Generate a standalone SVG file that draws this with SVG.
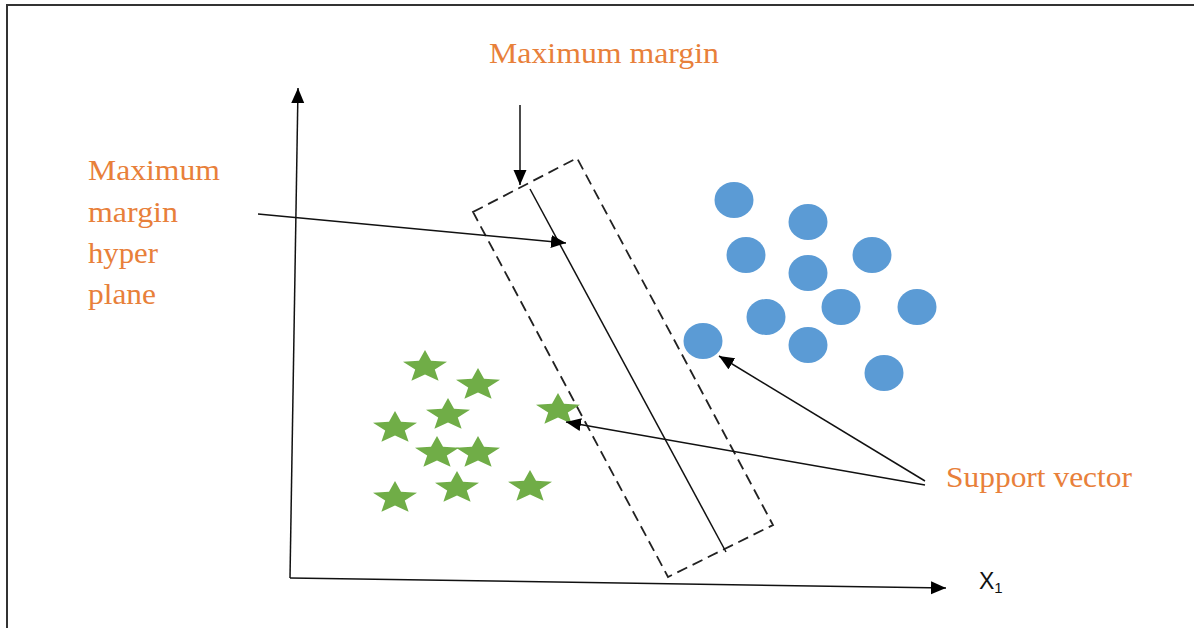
<svg xmlns="http://www.w3.org/2000/svg" width="1194" height="628" viewBox="0 0 1194 628">
<style>
.lbl{font-family:"Liberation Serif","Times New Roman",serif;fill:#E8803A;font-size:30px}
.ln{stroke:#111;stroke-width:1.5;fill:none}
.dot{fill:#5B9BD5}
.star{fill:#70AD47}
</style>
<defs>
<marker id="ah" markerUnits="userSpaceOnUse" markerWidth="17" markerHeight="14" refX="15" refY="6.5" orient="auto">
<path d="M0,0 L15,6.5 L0,13 Z" fill="#000"/>
</marker>
<path id="st" d="M0,-17 L6,-6.2 L22,-5.25 L9.8,2.4 L13.6,13.75 L0,7.6 L-13.6,13.75 L-9.8,2.4 L-22,-5.25 L-6,-6.2 Z"/>
</defs>
<rect width="1194" height="628" fill="#fff"/>
<path d="M7,628 L7,5 L1194,5" fill="none" stroke="#333" stroke-width="2"/>

<g id="axes">
<line class="ln" x1="290" y1="578" x2="298" y2="88" marker-end="url(#ah)"/>
<line class="ln" x1="290" y1="578" x2="946" y2="588" marker-end="url(#ah)"/>
<text x="979" y="589" font-family="Liberation Sans,Arial,sans-serif" font-size="23" fill="#111">X<tspan font-size="15" dy="4">1</tspan></text>
</g>

<g id="margin-band">
<path d="M473,212 L577,158 L773,525 L668,577 Z" fill="none" stroke="#222" stroke-width="1.8" stroke-dasharray="11,6"/>
<line class="ln" x1="530" y1="189" x2="726" y2="552"/>
</g>

<g id="class-circles">
<ellipse class="dot" cx="734" cy="200" rx="19.5" ry="18"/>
<ellipse class="dot" cx="808" cy="222" rx="19.5" ry="18"/>
<ellipse class="dot" cx="746" cy="255" rx="19.5" ry="18"/>
<ellipse class="dot" cx="872" cy="255" rx="19.5" ry="18"/>
<ellipse class="dot" cx="808" cy="273" rx="19.5" ry="18"/>
<ellipse class="dot" cx="766" cy="317" rx="19.5" ry="18"/>
<ellipse class="dot" cx="841" cy="307" rx="19.5" ry="18"/>
<ellipse class="dot" cx="917" cy="307" rx="19.5" ry="18"/>
<ellipse class="dot" cx="703" cy="341" rx="19.5" ry="18"/>
<ellipse class="dot" cx="808" cy="345" rx="19.5" ry="18"/>
<ellipse class="dot" cx="884" cy="373" rx="19.5" ry="18"/>
</g>

<g id="class-stars">
<use href="#st" class="star" x="425" y="367"/>
<use href="#st" class="star" x="478" y="385"/>
<use href="#st" class="star" x="448" y="415"/>
<use href="#st" class="star" x="395" y="428"/>
<use href="#st" class="star" x="558" y="410"/>
<use href="#st" class="star" x="437" y="453"/>
<use href="#st" class="star" x="478" y="453"/>
<use href="#st" class="star" x="395" y="498"/>
<use href="#st" class="star" x="457" y="488"/>
<use href="#st" class="star" x="530" y="487"/>
</g>

<g id="connectors">
<line class="ln" x1="520" y1="105" x2="520" y2="185" marker-end="url(#ah)"/>
<line class="ln" x1="258" y1="214" x2="566" y2="243" marker-end="url(#ah)"/>
<line class="ln" x1="925" y1="481" x2="719" y2="356" marker-end="url(#ah)"/>
<line class="ln" x1="925" y1="485" x2="566" y2="422" marker-end="url(#ah)"/>
</g>

<g id="label-max-margin">
<text class="lbl" x="489" y="63" textLength="230" lengthAdjust="spacingAndGlyphs">Maximum margin</text>
</g>
<g id="label-hyperplane">
<text class="lbl" x="88" y="180" textLength="132" lengthAdjust="spacingAndGlyphs">Maximum</text>
<text class="lbl" x="88" y="222" textLength="90" lengthAdjust="spacingAndGlyphs">margin</text>
<text class="lbl" x="88" y="263" textLength="70" lengthAdjust="spacingAndGlyphs">hyper</text>
<text class="lbl" x="88" y="304" textLength="68" lengthAdjust="spacingAndGlyphs">plane</text>
</g>
<g id="label-support">
<text class="lbl" x="946" y="487" textLength="186" lengthAdjust="spacingAndGlyphs">Support vector</text>
</g>
</svg>
